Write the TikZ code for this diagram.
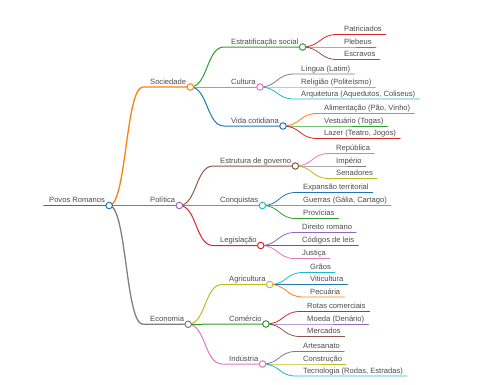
\documentclass[tikz,border=0pt]{standalone}
\usepackage{fontspec}
\setmainfont{Liberation Sans}
\usetikzlibrary{positioning, backgrounds}
\definecolor{cBlue}{HTML}{1F77B4}
\definecolor{cOrange}{HTML}{FF7F0E}
\definecolor{cGreen}{HTML}{2CA02C}
\definecolor{cRed}{HTML}{D62728}
\definecolor{cPurple}{HTML}{9467BD}
\definecolor{cBrown}{HTML}{8C564B}
\definecolor{cPink}{HTML}{E377C2}
\definecolor{cGray}{HTML}{7F7F7F}
\definecolor{cOlive}{HTML}{BCBD22}
\definecolor{cCyan}{HTML}{17BECF}
\definecolor{textgray}{HTML}{4A4A4A}

\begin{document}
\begin{tikzpicture}[
    x=1pt, y=-1pt,
    txt/.style={inner sep=0pt, text depth=0pt, font=\fontsize{7.6}{9}\selectfont, text=textgray},
    dot/.style={circle, draw=#1, fill=white, line width=1pt, inner sep=0pt, minimum size=6.5pt},
    rootline/.style={line width=1.8pt, line cap=round},
    lone/.style={line width=1.3pt, line cap=round},
    ltwo/.style={line width=1pt, line cap=round},
    lthree/.style={line width=0.8pt, line cap=round}
]
\useasboundingbox (0,0) rectangle (480,384);

% root
\coordinate (rootS) at (44,205.5);
\node[txt, above right=2.5pt and 5pt of rootS] (root) {Povos Romanos};
\node[dot=cBlue] (rootC) at ([xshift=4pt]root.east |- rootS) {};

% first level
\coordinate (socS) at (143,87);
\coordinate (polS) at (143,205.5);
\coordinate (ecoS) at (143,324.3);
\node[txt, above right=2.5pt and 7pt of socS] (soc) {Sociedade};
\node[txt, above right=2.5pt and 7pt of polS] (pol) {Política};
\node[txt, above right=2.5pt and 7pt of ecoS] (eco) {Economia};
\node[dot=cOrange] (socC) at ([xshift=4pt]soc.east |- socS) {};
\node[dot=cPurple] (polC) at ([xshift=4pt]pol.east |- polS) {};
\node[dot=cGray] (ecoC) at ([xshift=4pt]eco.east |- ecoS) {};

% second level
\coordinate (estS) at (224,47);
\coordinate (culS) at (224,87);
\coordinate (vidS) at (224,126);
\coordinate (govS) at (213,166);
\coordinate (conqS) at (213,205.5);
\coordinate (legS) at (213,245.5);
\coordinate (agrS) at (222,284.5);
\coordinate (comS) at (222,324);
\coordinate (indS) at (222,364);
\node[txt, above right=2.5pt and 7pt of estS] (est) {Estratificação social};
\node[txt, above right=2.5pt and 7pt of culS] (cul) {Cultura};
\node[txt, above right=2.5pt and 7pt of vidS] (vid) {Vida cotidiana};
\node[txt, above right=2.5pt and 7pt of govS] (gov) {Estrutura de governo};
\node[txt, above right=2.5pt and 7pt of conqS] (conq) {Conquistas};
\node[txt, above right=2.5pt and 7pt of legS] (leg) {Legislação};
\node[txt, above right=2.5pt and 7pt of agrS] (agr) {Agricultura};
\node[txt, above right=2.5pt and 7pt of comS] (com) {Comércio};
\node[txt, above right=2.5pt and 7pt of indS] (ind) {Indústria};
\node[dot=cGreen] (estC) at ([xshift=4pt]est.east |- estS) {};
\node[dot=cPink] (culC) at ([xshift=4pt]cul.east |- culS) {};
\node[dot=cBlue] (vidC) at ([xshift=4pt]vid.east |- vidS) {};
\node[dot=cBrown] (govC) at ([xshift=4pt]gov.east |- govS) {};
\node[dot=cCyan] (conqC) at ([xshift=4pt]conq.east |- conqS) {};
\node[dot=cRed] (legC) at ([xshift=4pt]leg.east |- legS) {};
\node[dot=cOlive] (agrC) at ([xshift=4pt]agr.east |- agrS) {};
\node[dot=cGreen] (comC) at ([xshift=4pt]com.east |- comS) {};
\node[dot=cPink] (indC) at ([xshift=4pt]ind.east |- indS) {};

% leaves
\coordinate (patS) at (337,34.5);
\coordinate (pleS) at (337,47);
\coordinate (escS) at (337,59.5);
\coordinate (linS) at (294,74);
\coordinate (relS) at (294,87);
\coordinate (arqS) at (294,99);
\coordinate (aliS) at (317,113.5);
\coordinate (vesS) at (317,126);
\coordinate (lazS) at (317,138.5);
\coordinate (repS) at (329,153.5);
\coordinate (impS) at (329,166);
\coordinate (senS) at (329,178.5);
\coordinate (expS) at (296,192.5);
\coordinate (gueS) at (296,205.5);
\coordinate (proS) at (296,218.5);
\coordinate (dirS) at (295,232.5);
\coordinate (codS) at (295,245.5);
\coordinate (jusS) at (295,258.5);
\coordinate (graS) at (303,272.5);
\coordinate (vitS) at (303,284.5);
\coordinate (pecS) at (303,297);
\coordinate (rotS) at (300,311.5);
\coordinate (moeS) at (300,324);
\coordinate (merS) at (300,336.5);
\coordinate (artS) at (296,351.5);
\coordinate (consS) at (296,364);
\coordinate (tecS) at (296,376);
\node[txt, above right=2.5pt and 7pt of patS] (pat) {Patriciados};
\node[txt, above right=2.5pt and 7pt of pleS] (ple) {Plebeus};
\node[txt, above right=2.5pt and 7pt of escS] (esc) {Escravos};
\node[txt, above right=2.5pt and 7pt of linS] (lin) {Língua (Latim)};
\node[txt, above right=2.5pt and 7pt of relS] (rel) {Religião (Politeísmo)};
\node[txt, above right=2.5pt and 7pt of arqS] (arq) {Arquitetura (Aquedutos, Coliseus)};
\node[txt, above right=2.5pt and 7pt of aliS] (ali) {Alimentação (Pão, Vinho)};
\node[txt, above right=2.5pt and 7pt of vesS] (ves) {Vestuário (Togas)};
\node[txt, above right=2.5pt and 7pt of lazS] (laz) {Lazer (Teatro, Jogos)};
\node[txt, above right=2.5pt and 7pt of repS] (rep) {República};
\node[txt, above right=2.5pt and 7pt of impS] (imp) {Império};
\node[txt, above right=2.5pt and 7pt of senS] (sen) {Senadores};
\node[txt, above right=2.5pt and 7pt of expS] (exp) {Expansão territorial};
\node[txt, above right=2.5pt and 7pt of gueS] (gue) {Guerras (Gália, Cartago)};
\node[txt, above right=2.5pt and 7pt of proS] (pro) {Provícias};
\node[txt, above right=2.5pt and 7pt of dirS] (dir) {Direito romano};
\node[txt, above right=2.5pt and 7pt of codS] (cod) {Códigos de leis};
\node[txt, above right=2.5pt and 7pt of jusS] (jus) {Justiça};
\node[txt, above right=2.5pt and 7pt of graS] (gra) {Grãos};
\node[txt, above right=2.5pt and 7pt of vitS] (vit) {Viticultura};
\node[txt, above right=2.5pt and 7pt of pecS] (pec) {Pecuária};
\node[txt, above right=2.5pt and 7pt of rotS] (rot) {Rotas comerciais};
\node[txt, above right=2.5pt and 7pt of moeS] (moe) {Moeda (Denário)};
\node[txt, above right=2.5pt and 7pt of merS] (mer) {Mercados};
\node[txt, above right=2.5pt and 7pt of artS] (art) {Artesanato};
\node[txt, above right=2.5pt and 7pt of consS] (cons) {Construção};
\node[txt, above right=2.5pt and 7pt of tecS] (tec) {Tecnologia (Rodas, Estradas)};

\begin{scope}[on background layer]
% root and first level
\draw[rootline, cBlue] (rootS) -- (rootC.center);
\draw[lone, cOrange] (rootC.center) .. controls +(17.5,0) and +(-17.5,0) .. (socS) -- (socC.center);
\draw[lone, cPurple] (rootC.center) -- (polC.center);
\draw[lone, cGray] (rootC.center) .. controls +(17.5,0) and +(-17.5,0) .. (ecoS) -- (ecoC.center);
% second level
\draw[ltwo, cGreen] (socC.center) .. controls +(17.5,0) and +(-17.5,0) .. (estS) -- (estC.center);
\draw[ltwo, cPink] (socC.center) -- (culC.center);
\draw[ltwo, cBlue] (socC.center) .. controls +(17.5,0) and +(-17.5,0) .. (vidS) -- (vidC.center);
\draw[ltwo, cBrown] (polC.center) .. controls +(17.5,0) and +(-17.5,0) .. (govS) -- (govC.center);
\draw[ltwo, cCyan] (polC.center) -- (conqC.center);
\draw[ltwo, cRed] (polC.center) .. controls +(17.5,0) and +(-17.5,0) .. (legS) -- (legC.center);
\draw[ltwo, cOlive] (ecoC.center) .. controls +(17.5,0) and +(-17.5,0) .. (agrS) -- (agrC.center);
\draw[ltwo, cGreen] (ecoC.center) -- (comC.center);
\draw[ltwo, cPink] (ecoC.center) .. controls +(17.5,0) and +(-17.5,0) .. (indS) -- (indC.center);
% leaves
\draw[lthree, cRed] (estC.center) .. controls +(17.5,0) and +(-17.5,0) .. (patS) -- ([xshift=4pt]pat.east |- patS);
\draw[lthree, cPurple] (estC.center) .. controls +(17.5,0) and +(-17.5,0) .. (pleS) -- ([xshift=4pt]ple.east |- pleS);
\draw[lthree, cBrown] (estC.center) .. controls +(17.5,0) and +(-17.5,0) .. (escS) -- ([xshift=4pt]esc.east |- escS);
\draw[lthree, cGray] (culC.center) .. controls +(17.5,0) and +(-17.5,0) .. (linS) -- ([xshift=4pt]lin.east |- linS);
\draw[lthree, cOlive] (culC.center) .. controls +(17.5,0) and +(-17.5,0) .. (relS) -- ([xshift=4pt]rel.east |- relS);
\draw[lthree, cCyan] (culC.center) .. controls +(17.5,0) and +(-17.5,0) .. (arqS) -- ([xshift=4pt]arq.east |- arqS);
\draw[lthree, cOrange] (vidC.center) .. controls +(17.5,0) and +(-17.5,0) .. (aliS) -- ([xshift=4pt]ali.east |- aliS);
\draw[lthree, cGreen] (vidC.center) .. controls +(17.5,0) and +(-17.5,0) .. (vesS) -- ([xshift=4pt]ves.east |- vesS);
\draw[lthree, cRed] (vidC.center) .. controls +(17.5,0) and +(-17.5,0) .. (lazS) -- ([xshift=4pt]laz.east |- lazS);
\draw[lthree, cPink] (govC.center) .. controls +(17.5,0) and +(-17.5,0) .. (repS) -- ([xshift=4pt]rep.east |- repS);
\draw[lthree, cGray] (govC.center) .. controls +(17.5,0) and +(-17.5,0) .. (impS) -- ([xshift=4pt]imp.east |- impS);
\draw[lthree, cOlive] (govC.center) .. controls +(17.5,0) and +(-17.5,0) .. (senS) -- ([xshift=4pt]sen.east |- senS);
\draw[lthree, cBlue] (conqC.center) .. controls +(17.5,0) and +(-17.5,0) .. (expS) -- ([xshift=4pt]exp.east |- expS);
\draw[lthree, cOrange] (conqC.center) .. controls +(17.5,0) and +(-17.5,0) .. (gueS) -- ([xshift=4pt]gue.east |- gueS);
\draw[lthree, cGreen] (conqC.center) .. controls +(17.5,0) and +(-17.5,0) .. (proS) -- ([xshift=4pt]pro.east |- proS);
\draw[lthree, cPurple] (legC.center) .. controls +(17.5,0) and +(-17.5,0) .. (dirS) -- ([xshift=4pt]dir.east |- dirS);
\draw[lthree, cBrown] (legC.center) .. controls +(17.5,0) and +(-17.5,0) .. (codS) -- ([xshift=4pt]cod.east |- codS);
\draw[lthree, cPink] (legC.center) .. controls +(17.5,0) and +(-17.5,0) .. (jusS) -- ([xshift=4pt]jus.east |- jusS);
\draw[lthree, cCyan] (agrC.center) .. controls +(17.5,0) and +(-17.5,0) .. (graS) -- ([xshift=4pt]gra.east |- graS);
\draw[lthree, cBlue] (agrC.center) .. controls +(17.5,0) and +(-17.5,0) .. (vitS) -- ([xshift=4pt]vit.east |- vitS);
\draw[lthree, cOrange] (agrC.center) .. controls +(17.5,0) and +(-17.5,0) .. (pecS) -- ([xshift=4pt]pec.east |- pecS);
\draw[lthree, cRed] (comC.center) .. controls +(17.5,0) and +(-17.5,0) .. (rotS) -- ([xshift=4pt]rot.east |- rotS);
\draw[lthree, cPurple] (comC.center) .. controls +(17.5,0) and +(-17.5,0) .. (moeS) -- ([xshift=4pt]moe.east |- moeS);
\draw[lthree, cBrown] (comC.center) .. controls +(17.5,0) and +(-17.5,0) .. (merS) -- ([xshift=4pt]mer.east |- merS);
\draw[lthree, cGray] (indC.center) .. controls +(17.5,0) and +(-17.5,0) .. (artS) -- ([xshift=4pt]art.east |- artS);
\draw[lthree, cOlive] (indC.center) .. controls +(17.5,0) and +(-17.5,0) .. (consS) -- ([xshift=4pt]cons.east |- consS);
\draw[lthree, cCyan] (indC.center) .. controls +(17.5,0) and +(-17.5,0) .. (tecS) -- ([xshift=4pt]tec.east |- tecS);
\end{scope}
\end{tikzpicture}
\end{document}
